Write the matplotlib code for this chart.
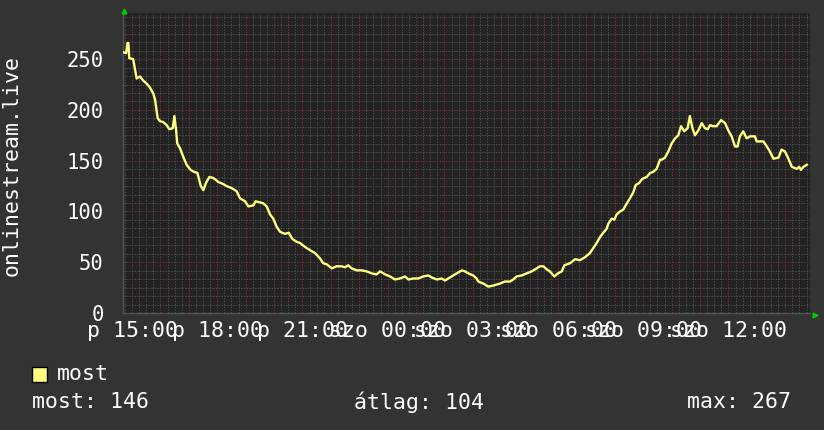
import matplotlib
matplotlib.use('Agg')
import matplotlib.pyplot as plt
from matplotlib.ticker import MultipleLocator
from matplotlib.patches import Rectangle

# hours since midnight on friday (24 = szo 00:00)
hours = [14.68, 14.79, 14.84, 14.87, 14.90, 15.04, 15.16, 15.28, 15.39, 15.51,
         15.63, 15.75, 15.81, 15.90, 15.98, 16.10, 16.22, 16.31, 16.43, 16.49,
         16.55, 16.59, 16.69, 16.80, 16.92, 17.06, 17.18, 17.30, 17.42, 17.51,
         17.60, 17.72, 17.86, 18.04, 18.21, 18.33, 18.51, 18.68, 18.80, 18.98,
         19.09, 19.27, 19.35, 19.50, 19.62, 19.74, 19.86, 19.97, 20.09, 20.21,
         20.38, 20.52, 20.64, 20.80, 20.91, 21.09, 21.26, 21.44, 21.61, 21.73,
         21.85, 22.03, 22.20, 22.38, 22.50, 22.61, 22.73, 22.91, 23.08, 23.26,
         23.44, 23.61, 23.73, 23.91, 24.08, 24.26, 24.43, 24.61, 24.73, 24.90,
         25.08, 25.25, 25.43, 25.55, 25.73, 25.90, 26.02, 26.13, 26.31, 26.43,
         26.61, 26.72, 26.84, 27.01, 27.13, 27.19, 27.37, 27.54, 27.72, 27.84,
         27.95, 28.13, 28.31, 28.42, 28.54, 28.72, 28.89, 29.07, 29.25, 29.36,
         29.48, 29.60, 29.71, 29.87, 29.99, 30.13, 30.22, 30.42, 30.60, 30.77,
         30.95, 31.12, 31.24, 31.36, 31.48, 31.59, 31.71, 31.77, 31.89, 31.98,
         32.06, 32.18, 32.30, 32.42, 32.53, 32.65, 32.73, 32.85, 32.96, 33.12,
         33.24, 33.35, 33.47, 33.59, 33.65, 33.76, 33.88, 34.00, 34.12, 34.23,
         34.33, 34.44, 34.56, 34.64, 34.73, 34.82, 34.94, 35.06, 35.17, 35.27,
         35.35, 35.46, 35.58, 35.74, 35.88, 35.99, 36.11, 36.23, 36.32, 36.40,
         36.52, 36.64, 36.76, 36.93, 36.99, 37.23, 37.35, 37.46, 37.58, 37.76,
         37.87, 37.99, 38.11, 38.23, 38.40, 38.49, 38.55, 38.64, 38.76]

most = [257, 256, 266, 266, 251, 250, 231, 233, 229, 226,
        222, 216, 210, 192, 189, 188, 185, 181, 182, 194,
        180, 167, 162, 154, 146, 141, 139, 138, 125, 121,
        128, 134, 133, 129, 127, 125, 123, 120, 113, 110,
        105, 106, 110, 109, 108, 105, 97, 93, 85, 80,
        78, 79, 73, 70, 69, 65, 62, 59, 54, 49,
        48, 44, 46, 46, 45, 47, 44, 42, 42, 41,
        39, 38, 41, 38, 36, 33, 34, 36, 33, 34,
        34, 36, 37, 35, 33, 34, 32, 34, 37, 39,
        42, 41, 39, 37, 34, 31, 29, 26, 27, 28,
        29, 31, 31, 33, 36, 37, 39, 41, 44, 46,
        46, 43, 41, 36, 39, 41, 47, 49, 53, 52,
        55, 59, 64, 69, 75, 79, 83, 88, 93, 92,
        97, 100, 102, 108, 113, 119, 126, 128, 132, 134,
        138, 139, 142, 151, 151, 153, 159, 167, 172, 175,
        184, 179, 182, 194, 182, 175, 180, 187, 182, 181,
        185, 184, 184, 190, 187, 180, 174, 164, 164, 174,
        179, 172, 174, 174, 169, 169, 164, 159, 152, 153,
        161, 159, 152, 144, 142, 144, 141, 144, 146]

tick_hours = [15, 18, 21, 24, 27, 30, 33, 36]
tick_labels = ['p 15:00', 'p 18:00', 'p 21:00', 'szo 00:00',
               'szo 03:00', 'szo 06:00', 'szo 09:00', 'szo 12:00']
y_ticks = [0, 50, 100, 150, 200, 250]

stats = [('most: 146', 'left', 32), ('átlag: 104', 'center', 419),
         ('max: 267', 'right', 791)]

BACK = '#333333'
CANVAS = '#222222'
FONT = 'DejaVu Sans Mono'
FS = 15.5

fig = plt.figure(figsize=(8.24, 4.30), dpi=100, facecolor=BACK)
ax = fig.add_axes([123 / 824, 117 / 430, 687 / 824, 300 / 430])
ax.set_facecolor(CANVAS)

ax.plot(hours, most, color='#ffff80', linewidth=1.7, zorder=3)

ax.set_xlim(14.68, 38.87)
ax.set_ylim(0, 295.5)

ax.xaxis.set_minor_locator(MultipleLocator(0.25))
ax.xaxis.set_major_locator(MultipleLocator(1))
ax.yaxis.set_minor_locator(MultipleLocator(50 / 6))
ax.yaxis.set_major_locator(MultipleLocator(50))
ax.grid(which='minor', color='#4c4c4c', linestyle=(0, (1.4, 1.4)), linewidth=0.72)
ax.grid(which='major', color='#733232', linestyle=(0, (1.4, 1.4)), linewidth=0.72)
ax.set_axisbelow(True)

ax.tick_params(which='both', length=0)
ax.set_xticklabels([])
for h, lab in zip(tick_hours, tick_labels):
    ax.text(h, -0.028, lab, transform=ax.get_xaxis_transform(), ha='center', va='top',
            color='white', fontsize=FS, family=FONT)
ax.set_yticks(y_ticks)
ax.set_yticklabels([str(v) for v in y_ticks], color='white', fontsize=14.8, family=FONT)
ax.tick_params(axis='y', pad=14)

for s in ['top', 'right']:
    ax.spines[s].set_visible(False)
for s in ['left', 'bottom']:
    ax.spines[s].set_color('#555555')
    ax.spines[s].set_linewidth(1)

# little green arrows at the axis ends
ax.plot([0.002], [1.008], marker='^', color='#00cc00', markersize=3.5, transform=ax.transAxes,
        clip_on=False, zorder=5)
ax.plot([1.008], [-0.005], marker='>', color='#00cc00', markersize=3.5, transform=ax.transAxes,
        clip_on=False, zorder=5)

fig.text(12 / 824, 1 - 165 / 430, 'onlinestream.live', rotation=90, ha='center', va='center',
         color='white', fontsize=FS, family=FONT)

fig.patches.append(Rectangle((32 / 824, 1 - 382 / 430), 15 / 824, 15 / 430,
                             transform=fig.transFigure, facecolor='#ffff80',
                             edgecolor='black', linewidth=1))
fig.text(57 / 824, 1 - 374 / 430, 'most', ha='left', va='center', color='white',
         fontsize=FS, family=FONT)
for txt, ha, xp in stats:
    fig.text(xp / 824, 1 - 402 / 430, txt, ha=ha, va='center', color='white',
             fontsize=FS, family=FONT)

fig.savefig('out.png', dpi=100, facecolor=BACK)
